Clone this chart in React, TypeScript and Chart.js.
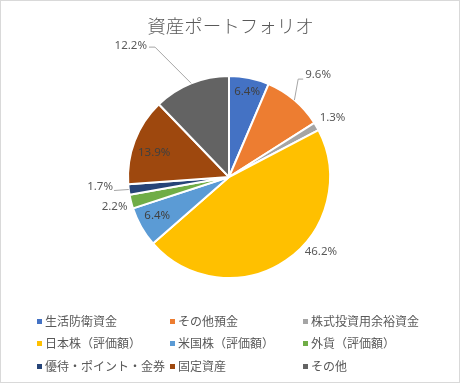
import React, { useEffect, useRef } from "react";
import { Chart, registerables } from "chart.js";

Chart.register(...registerables);

const TITLE = "資産ポートフォリオ";
const CATEGORIES = [
  "生活防衛資金",
  "その他預金",
  "株式投資用余裕資金",
  "日本株（評価額）",
  "米国株（評価額）",
  "外貨（評価額）",
  "優待・ポイント・金券",
  "固定資産",
  "その他",
];
const VALUES = [6.4, 9.6, 1.3, 46.2, 6.4, 2.2, 1.7, 13.9, 12.2];
const COLORS = [
  "#4472C4",
  "#ED7D31",
  "#A5A5A5",
  "#FFC000",
  "#5B9BD5",
  "#70AD47",
  "#264478",
  "#9E480E",
  "#636363",
];

// label placement styles: [radius factor, angle offset (deg), inside?, leader]
type Leader = null | { side: "left" | "right"; dy: number; gap: number; elbow: number };
const LABEL_STYLE: { f: number; off: number; inside: boolean; leader: Leader }[] = [
  { f: 0.86, off: 0.5, inside: true, leader: null },
  { f: 1.34, off: 0.8, inside: false, leader: { side: "right", dy: 4, gap: 2, elbow: 5 } },
  { f: 1.18, off: 0.3, inside: false, leader: null },
  { f: 1.17, off: -16.6, inside: false, leader: null },
  { f: 0.81, off: 1, inside: true, leader: null },
  { f: 1.17, off: -0.3, inside: false, leader: null },
  { f: 1.28, off: 2.9, inside: false, leader: { side: "left", dy: 4, gap: 1, elbow: 0 } },
  { f: 0.78, off: -2.7, inside: true, leader: null },
  { f: 1.62, off: -14.9, inside: false, leader: { side: "left", dy: 1, gap: 2, elbow: 6 } },
];

const labelPlugin = {
  id: "pieLabels",
  afterDatasetsDraw(chart: any) {
    const ctx = chart.ctx as CanvasRenderingContext2D;
    const meta = chart.getDatasetMeta(0);
    const data = chart.data.datasets[0].data as number[];
    const total = data.reduce((a, b) => a + b, 0);
    ctx.save();
    ctx.font = "11.5px 'Noto Sans', sans-serif";
    ctx.textAlign = "center";
    ctx.textBaseline = "middle";
    meta.data.forEach((arc: any, i: number) => {
      const p = arc.getProps(["x", "y", "startAngle", "endAngle", "outerRadius"], true);
      const st = LABEL_STYLE[i];
      const mid = (p.startAngle + p.endAngle) / 2;
      const a = mid + (st.off * Math.PI) / 180;
      const lx = p.x + Math.cos(a) * p.outerRadius * st.f;
      const ly = p.y + Math.sin(a) * p.outerRadius * st.f;
      const text = ((data[i] / total) * 100).toFixed(1) + "%";
      const w = ctx.measureText(text).width;
      if (st.leader) {
        const L = st.leader;
        const ex = p.x + Math.cos(mid) * p.outerRadius;
        const ey = p.y + Math.sin(mid) * p.outerRadius;
        const sgn = L.side === "right" ? -1 : 1;
        const edgeX = L.side === "right" ? lx - w / 2 : lx + w / 2;
        const endX = edgeX + sgn * L.gap;
        const elbowX = edgeX + sgn * (L.gap + L.elbow);
        const yy = ly + L.dy;
        ctx.strokeStyle = "#a6a6a6";
        ctx.lineWidth = 1;
        ctx.beginPath();
        ctx.moveTo(ex, ey);
        ctx.lineTo(elbowX, yy);
        ctx.lineTo(endX, yy);
        ctx.stroke();
      }
      ctx.fillStyle = st.inside ? "#404040" : "#595959";
      ctx.fillText(text, lx, ly);
    });
    ctx.restore();
  },
};

export default function App() {
  const ref = useRef<HTMLCanvasElement>(null);
  useEffect(() => {
    if (!ref.current) return;
    const chart = new Chart(ref.current, {
      type: "pie",
      data: {
        labels: CATEGORIES,
        datasets: [
          {
            data: VALUES,
            backgroundColor: COLORS,
            borderColor: "#ffffff",
            borderWidth: 2,
            radius: 101,
          } as any,
        ],
      },
      options: {
        animation: false,
        responsive: false,
        maintainAspectRatio: false,
        layout: { padding: { left: 119, right: 122, top: 67, bottom: 98 } },
        plugins: {
          legend: { display: false },
          title: { display: false },
          tooltip: { enabled: false },
        },
      },
      plugins: [labelPlugin],
    });
    return () => chart.destroy();
  }, []);

  const colX = [37, 170, 303];
  const rowY = [321, 343, 366];

  return (
    <div
      style={{
        position: "fixed",
        left: 0,
        top: 0,
        width: 461,
        height: 385,
        background: "#ffffff",
        overflow: "hidden",
      }}
    >
      <canvas
        ref={ref}
        width={461}
        height={385}
        style={{ position: "absolute", left: 0, top: 0, width: 461, height: 385 }}
      />
      <div
        style={{
          position: "absolute",
          left: 0,
          top: 0,
          width: 460,
          height: 383,
          boxSizing: "border-box",
          border: "1px solid #d9d9d9",
          pointerEvents: "none",
        }}
      />
      <div
        style={{
          position: "absolute",
          left: 0,
          top: 15,
          width: 461,
          textAlign: "center",
          fontFamily: "'Noto Sans CJK JP', sans-serif",
          fontSize: 18.5,
          fontWeight: 300,
          lineHeight: "20px",
          color: "#595959",
          letterSpacing: 0,
        }}
      >
        {TITLE}
      </div>
      {CATEGORIES.map((c, i) => (
        <div
          key={c}
          style={{
            position: "absolute",
            left: colX[i % 3],
            top: rowY[Math.floor(i / 3)] - 8,
            height: 16,
            display: "flex",
            alignItems: "center",
            whiteSpace: "nowrap",
            fontFamily: "'Noto Sans CJK JP', sans-serif",
            fontSize: 12,
            lineHeight: "16px",
            color: "#595959",
          }}
        >
          <span
            style={{
              display: "inline-block",
              width: 5,
              height: 5,
              background: COLORS[i],
              marginRight: 3,
            }}
          />
          <span>{c}</span>
        </div>
      ))}
    </div>
  );
}
